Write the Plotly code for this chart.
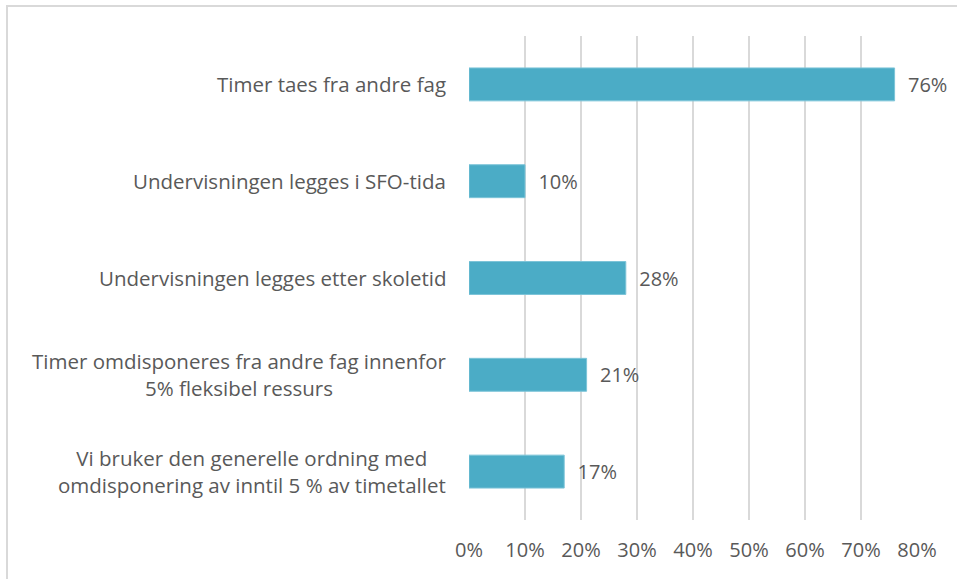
import plotly.graph_objects as go

categories = [
    "Timer taes fra andre fag",
    "Undervisningen legges i SFO-tida",
    "Undervisningen legges etter skoletid",
    "Timer omdisponeres fra andre fag innenfor<br>5% fleksibel ressurs",
    "Vi bruker den generelle ordning med<br>omdisponering av inntil 5 % av timetallet",
]
values = [76, 10, 28, 21, 17]
tick_vals = [0, 10, 20, 30, 40, 50, 60, 70, 80]
tick_text = ["0%", "10%", "20%", "30%", "40%", "50%", "60%", "70%", "80%"]

font_family = "Open Sans, sans-serif"
text_color = "#595959"
font_size = 21

fig = go.Figure(go.Bar(
    x=values,
    y=categories,
    orientation="h",
    marker=dict(color="#4BACC6", line=dict(color="#7CC4D8", width=1)),
    text=[f"  {v}%" for v in values],
    textposition="outside",
    textfont=dict(size=font_size - 1, color=text_color, family=font_family),
    cliponaxis=False,
    width=0.34,
))

# category labels as annotations so wrapped lines are centred
for cat in categories:
    fig.add_annotation(
        x=0, xref="paper", xshift=-21,
        y=cat, yref="y",
        text=cat, showarrow=False,
        xanchor="right", align="center",
        font=dict(size=font_size - 0.5, color=text_color, family=font_family),
    )

# light frame around the chart, cut off on the right and bottom like the original
fig.add_shape(
    type="rect", xref="paper", yref="paper",
    x0=(7 - 469) / 448, x1=1.2, y0=-0.3, y1=(520 - 6) / 484,
    line=dict(color="#D9D9D9", width=2), layer="below",
)

fig.update_layout(
    width=957, height=579,
    margin=dict(l=469, r=40, t=36, b=59),
    paper_bgcolor="white", plot_bgcolor="white",
    showlegend=False,
    font=dict(family=font_family, color=text_color, size=font_size),
    xaxis=dict(
        range=[0, 80], tickvals=tick_vals, ticktext=tick_text,
        showgrid=True, gridcolor="#D9D9D9", gridwidth=2,
        zeroline=False, showline=False, ticks="",
        tickfont=dict(size=font_size - 1, color=text_color),
        ticklabelstandoff=16,
    ),
    yaxis=dict(
        categoryorder="array", categoryarray=categories[::-1],
        showticklabels=False, showline=False, showgrid=False, ticks="",
    ),
)

fig.write_html(
    "out.html",
    config={"displayModeBar": False},
    post_script="document.body.style.margin='0px';",
)
